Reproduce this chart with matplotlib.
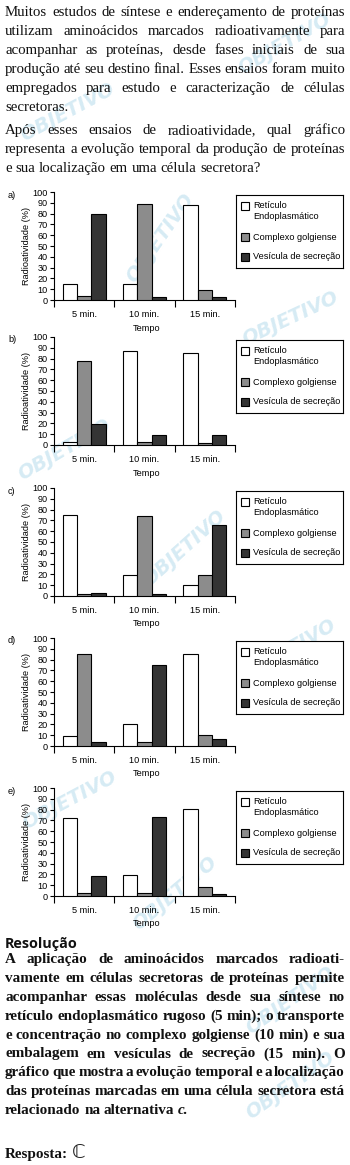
import matplotlib
matplotlib.use('Agg')
import matplotlib.pyplot as plt
from matplotlib.patches import Rectangle
from matplotlib.font_manager import FontProperties

W, H = 350, 1165
fig = plt.figure(figsize=(W / 100, H / 100), dpi=100)
fig.patch.set_facecolor('white')

def fx(x):
    return x / W

def fy(y):
    return 1 - y / H

# ---------------- data ----------------
categories = ['5 min.', '10 min.', '15 min.']
series_names = ['Retículo\nEndoplasmático', 'Complexo golgiense', 'Vesícula de secreção']
panel_labels = ['a)', 'b)', 'c)', 'd)', 'e)']
yticks = list(range(0, 101, 10))

reticulo_a = [15, 15, 88]
golgi_a = [4, 89, 9]
vesicula_a = [80, 2.5, 2.5]

reticulo_b = [2.5, 87, 85]
golgi_b = [78, 2.5, 1.5]
vesicula_b = [19, 9.5, 9.5]

reticulo_c = [75, 19, 10.5]
golgi_c = [2, 74, 19]
vesicula_c = [3, 2, 66]

reticulo_d = [9, 20, 85]
golgi_d = [85, 3.5, 10]
vesicula_d = [3.5, 75, 6.5]

reticulo_e = [72, 19.5, 81]
golgi_e = [2.5, 2.5, 8]
vesicula_e = [18.5, 73, 1.5]

panels = [
    (reticulo_a, golgi_a, vesicula_a),
    (reticulo_b, golgi_b, vesicula_b),
    (reticulo_c, golgi_c, vesicula_c),
    (reticulo_d, golgi_d, vesicula_d),
    (reticulo_e, golgi_e, vesicula_e),
]

intro_lines = [
    'Muitos estudos de síntese e endereçamento de proteínas',
    'utilizam aminoácidos marcados radioativamente para',
    'acompanhar as proteínas, desde fases iniciais de sua',
    'produção até seu destino final. Esses ensaios foram muito',
    'empregados para estudo e caracterização de células',
    'secretoras.',
]
question_lines = [
    'Após esses ensaios de radioatividade, qual gráfico',
    'representa a evolução temporal da produção de proteínas',
    'e sua localização em uma célula secretora?',
]
resol_lines = [
    'A aplicação de aminoácidos marcados radioati-',
    'vamente em células secretoras de proteínas permite',
    'acompanhar essas moléculas desde sua síntese no',
    'retículo endoplasmático rugoso (5 min); o transporte',
    'e concentração no complexo golgiense (10 min) e sua',
    'embalagem em vesículas de secreção (15 min). O',
    'gráfico que mostra a evolução temporal e a localização',
    'das proteínas marcadas em uma célula secretora está',
]
resol_last = 'relacionado na alternativa'
resol_last_it = 'c'

colors = ['white', '#8c8c8c', '#343434']

# ---------------- watermarks ----------------
wm_color = '#d6ebf4'
watermarks = [
    (285, 44, 30), (68, 112, 28), (160, 238, 55), (290, 318, 25),
    (65, 450, 30), (185, 548, 42), (290, 650, 30), (70, 800, 28),
    (175, 893, 40), (290, 1000, 35), (290, 1085, 35),
]
for (wx, wy, rot) in watermarks:
    fig.text(fx(wx), fy(wy), 'OBJETIVO', color=wm_color, fontsize=14,
             fontweight='bold', fontstyle='italic', family='DejaVu Sans',
             rotation=rot, ha='center', va='center', zorder=-5)

# ---------------- justified text ----------------
renderer = fig.canvas.get_renderer()

def twidth(s, fp):
    w, h, d = renderer.get_text_width_height_descent(s, fp, ismath=False)
    return w

def draw_line(line, baseline, fp, justify, x0=5, x1=345):
    words = line.split(' ')
    widths = [twidth(w, fp) for w in words]
    if justify and len(words) > 1:
        gap = (x1 - x0 - sum(widths)) / (len(words) - 1)
    else:
        gap = twidth('a b', fp) - twidth('ab', fp)
    x = x0
    for w, wd in zip(words, widths):
        fig.text(fx(x), fy(baseline), w, fontproperties=fp, ha='left',
                 va='baseline', color='#111111')
        x += wd + gap
    return x

fp_reg = FontProperties(family='Liberation Serif', size=10.7)
fp_bold = FontProperties(family='Liberation Serif', size=10.9, weight='bold')
fp_bold_it = FontProperties(family='Liberation Serif', size=10.9, weight='bold', style='italic')

for i, ln in enumerate(intro_lines):
    draw_line(ln, 16 + 19 * i, fp_reg, justify=(i < len(intro_lines) - 1))
for i, ln in enumerate(question_lines):
    draw_line(ln, 134 + 19 * i, fp_reg, justify=(i < len(question_lines) - 1))

fig.text(fx(5), fy(948), 'Resolução', family='Open Sans', fontweight='bold',
         fontsize=10.4, ha='left', va='baseline', color='#111111')
for i, ln in enumerate(resol_lines):
    draw_line(ln, 963 + 18.9 * i, fp_bold, justify=True)
xend = draw_line(resol_last, 963 + 18.9 * 8, fp_bold, justify=False)
fig.text(fx(xend), fy(963 + 18.9 * 8), resol_last_it + '.', fontproperties=fp_bold_it,
         ha='left', va='baseline', color='#111111')
fig.text(fx(5), fy(1158), 'Resposta:', fontproperties=fp_bold, ha='left',
         va='baseline', color='#111111')
fig.text(fx(72), fy(1158), 'ℂ', family='DejaVu Sans', fontsize=14,
         ha='left', va='baseline', color='#222222')

# ---------------- charts ----------------
zeros = [300, 445, 596, 746, 896]
ax_h = 108
bw = 0.237
offsets = [-bw, 0, bw]
sans = 'Liberation Sans'
fs = 6.6

for p, (vals, z) in enumerate(zip(panels, zeros)):
    top = z - ax_h
    ax = fig.add_axes([fx(54), fy(z), fx(235) - fx(54), ax_h / H])
    ax.patch.set_alpha(0)
    for k, series in enumerate(vals):
        xs = [i + offsets[k] for i in range(len(categories))]
        ax.bar(xs, series, width=bw, color=colors[k], edgecolor='black',
               linewidth=0.8, zorder=3)
    ax.set_xlim(-0.5, 2.5)
    ax.set_ylim(0, 100)
    ax.spines['top'].set_visible(False)
    ax.spines['right'].set_visible(False)
    ax.spines['left'].set_linewidth(0.8)
    ax.spines['bottom'].set_linewidth(0.8)
    ax.set_yticks(yticks)
    ax.set_yticklabels([str(t) for t in yticks], fontsize=fs, family=sans)
    ax.tick_params(axis='y', length=3, width=0.8, pad=1.5)
    ax.set_xticks([-0.5, 0.5, 1.5, 2.5])
    ax.set_xticklabels([])
    ax.tick_params(axis='x', which='major', length=5, width=0.8)
    ax.set_xticks(range(len(categories)), minor=True)
    ax.set_xticklabels(categories, minor=True, fontsize=fs, family=sans)
    ax.tick_params(axis='x', which='minor', length=0, pad=7)

    fig.text(fx(147), fy(z + 28), 'Tempo', fontsize=fs, family=sans,
             ha='center', va='center')
    fig.text(fx(27), fy(z - ax_h / 2), 'Radioatividade (%)', fontsize=fs,
             family=sans, rotation=90, ha='center', va='center')
    fig.text(fx(8), fy(top + 3), panel_labels[p], fontsize=fs, family=sans,
             ha='left', va='center')

    # legend box
    lt, lb = top + 3, top + 76
    lax = fig.add_axes([fx(236), fy(lb), fx(343) - fx(236), (lb - lt) / H])
    lax.set_xlim(236, 343)
    lax.set_ylim(lb, lt)
    lax.set_xticks([])
    lax.set_yticks([])
    for s in lax.spines.values():
        s.set_linewidth(0.8)
    entry_y = [top + 14, top + 45.3, top + 64.7]
    for k in range(3):
        lax.add_patch(Rectangle((241, entry_y[k] - 4), 8, 8, facecolor=colors[k],
                                edgecolor='black', linewidth=0.8))
    lax.text(253, top + 13.7, 'Retículo', fontsize=fs, family=sans, va='center', ha='left')
    lax.text(253, top + 24.7, 'Endoplasmático', fontsize=fs, family=sans, va='center', ha='left')
    lax.text(253, top + 45.3, series_names[1], fontsize=fs, family=sans, va='center', ha='left')
    lax.text(253, top + 64.7, series_names[2], fontsize=fs, family=sans, va='center', ha='left')

fig.savefig('out.png', dpi=100, facecolor='white')
